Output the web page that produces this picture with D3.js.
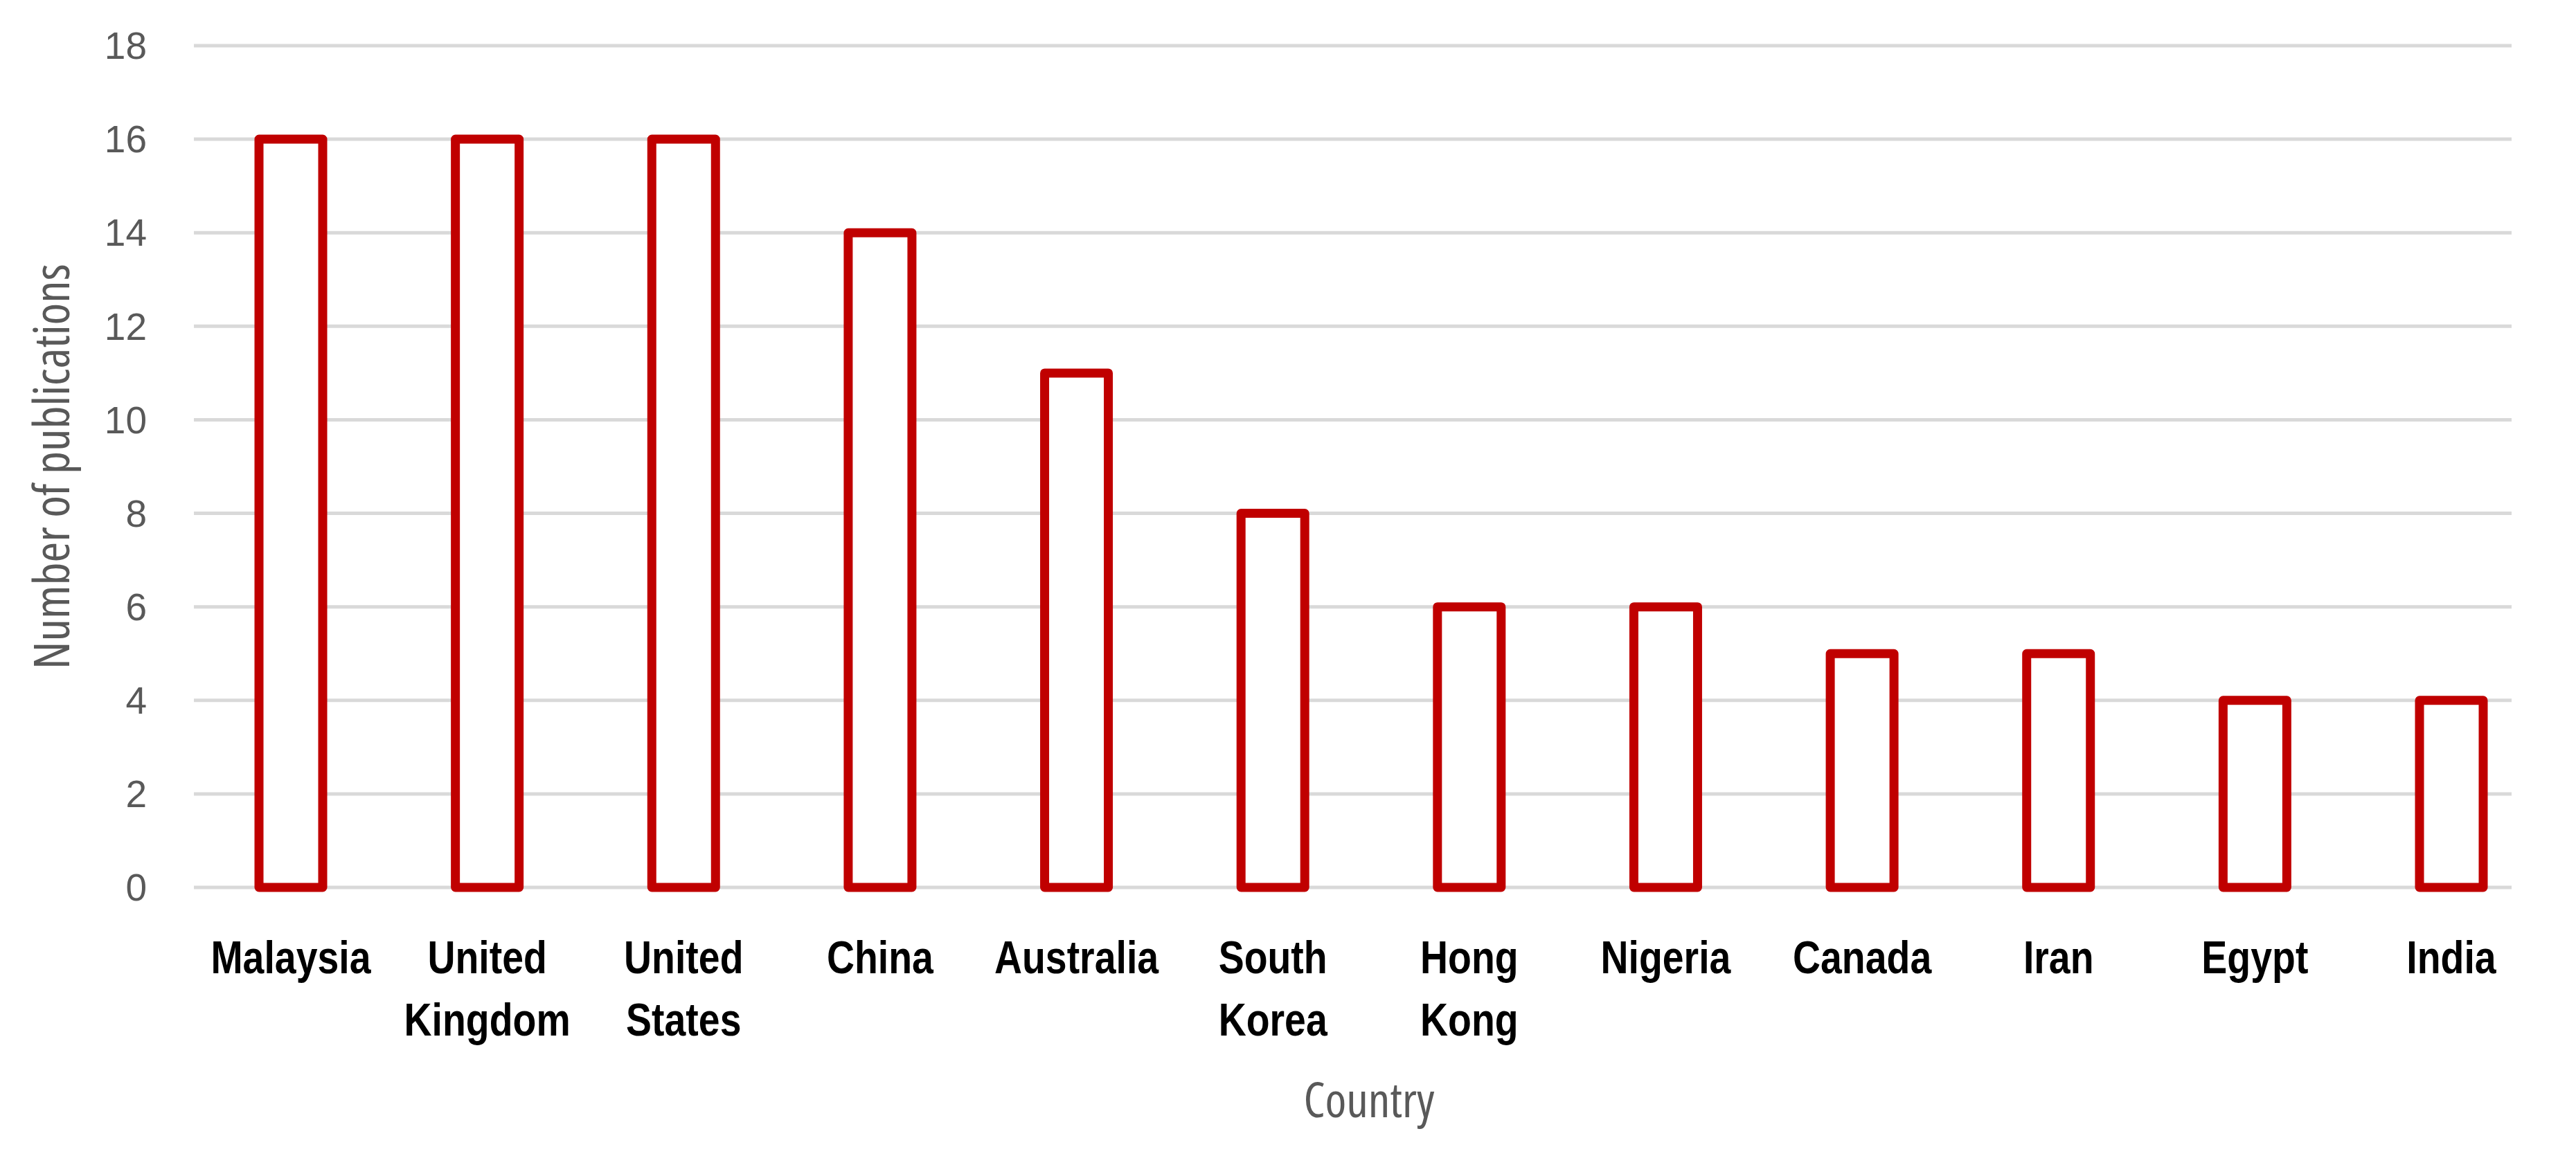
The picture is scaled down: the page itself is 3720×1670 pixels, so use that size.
<!DOCTYPE html>
<html><head><meta charset="utf-8">
<script src="https://cdn.jsdelivr.net/npm/d3@7"></script>
<style>body{margin:0;background:#fff}</style></head>
<body><svg id="c" width="3720" height="1670"></svg>
<script>
const categories = [["Malaysia"],["United","Kingdom"],["United","States"],["China"],["Australia"],["South","Korea"],["Hong","Kong"],["Nigeria"],["Canada"],["Iran"],["Egypt"],["India"]];
const values = [16,16,16,14,11,8,6,6,5,5,4,4];
const yTicks = [0,2,4,6,8,10,12,14,16,18];
const svg = d3.select("#c");
const L=280,R=3627,T=66,B=1282, BW=92;
const x = d3.scalePoint().domain(d3.range(categories.length)).range([420,3540]);
const y = d3.scaleLinear().domain([0,18]).range([B,T]);
svg.append("g").selectAll("line").data(yTicks).join("line")
 .attr("x1",L).attr("x2",R).attr("y1",d=>y(d)).attr("y2",d=>y(d))
 .attr("stroke","#d9d9d9").attr("stroke-width",5);
svg.append("g").selectAll("text").data(yTicks).join("text")
 .attr("x",212).attr("y",d=>y(d)).attr("dy","0.35em").attr("text-anchor","end")
 .attr("font-family","Liberation Sans, Arial, sans-serif").attr("font-size",55).attr("fill","#595959").text(d=>d);
svg.append("g").selectAll("rect").data(values).join("rect")
 .attr("x",(d,i)=>x(i)-BW/2).attr("width",BW).attr("y",d=>y(d)).attr("height",d=>B-y(d))
 .attr("fill","#fff").attr("stroke","#c00000").attr("stroke-width",13).attr("stroke-linejoin","round");
const lab = svg.append("g").selectAll("text").data(categories).join("text")
 .attr("text-anchor","middle").attr("font-family","Liberation Sans, Arial, sans-serif")
 .attr("font-weight","bold").attr("font-size",66).attr("fill","#000")
 .attr("transform",(d,i)=>`translate(${x(i)},1406) scale(0.84,1)`);
lab.selectAll("tspan").data(d=>d).join("tspan").attr("x",0).attr("dy",(d,j)=>j?90:0).text(d=>d);
svg.append("text").attr("x",1977).attr("y",1614).attr("text-anchor","middle")
 .attr("font-family","Open Sans, sans-serif").attr("font-stretch","condensed").attr("font-size",70).attr("fill","#595959").text("Country");
svg.append("text").attr("transform","translate(100,674) rotate(-90)").attr("text-anchor","middle")
 .attr("font-family","Open Sans, sans-serif").attr("font-stretch","condensed").attr("font-size",72).attr("fill","#595959").text("Number of publications");
</script></body></html>
